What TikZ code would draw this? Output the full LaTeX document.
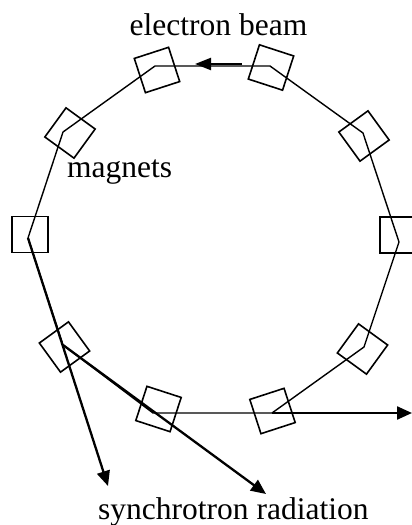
\documentclass[tikz,border=0pt]{standalone}
\usepackage{fontspec}
\setmainfont{Liberation Serif}
\usetikzlibrary{arrows.meta}
\begin{document}
\begin{tikzpicture}[x=1pt,y=-1pt,
  beampath/.style={line width=1.4pt, line join=miter},
  magnet/.style={draw, line width=1.6pt, minimum size=36pt, inner sep=0pt, shape=rectangle},
  rayarrow/.style={line width=2.3pt, -{Triangle[length=15pt,width=13pt]}},
  caption/.style={font=\fontsize{31.5}{36}\selectfont, inner sep=0pt}]
\useasboundingbox (0,0) rectangle (412,525);
\clip (0,0) rectangle (412,525);

% corners of the storage ring (a decagon)
\coordinate (v0) at (399,242);
\coordinate (v1) at (363,133);
\coordinate (v2) at (270,66);
\coordinate (v3) at (155,66);
\coordinate (v4) at (63,132);
\coordinate (v5) at (28,238);
\coordinate (v6) at (63,345);
\coordinate (v7) at (153,413);
\coordinate (v8) at (272,413);
\coordinate (v9) at (364,347);

% beam path
\draw[beampath] (v0) -- (v1) -- (v2) -- (v3) -- (v4) -- (v5) -- (v6) -- (v7) -- (v8) -- (v9) -- cycle;

% bending magnets at the corners
\node[magnet, rotate=0]   (m0) at (398,235) {};
\node[magnet, rotate=36]  (m1) at (364,136) {};
\node[magnet, rotate=-18] (m2) at (271,67.5) {};
\node[magnet, rotate=18]  (m3) at (157,70) {};
\node[magnet, rotate=-36] (m4) at (70,133) {};
\node[magnet, rotate=0]   (m5) at (30,234.5) {};
\node[magnet, rotate=36]  (m6) at (64.5,347) {};
\node[magnet, rotate=-18] (m7) at (158.5,409) {};
\node[magnet, rotate=18]  (m8) at (272.5,411) {};
\node[magnet, rotate=-36] (m9) at (362.5,349) {};

% direction of the electrons
\coordinate (bs) at (242,64);
\coordinate (be) at (195,64);
\draw[line width=2.3pt, -{Triangle[length=16pt,width=12pt]}] (bs) -- (be);

% synchrotron radiation leaving the ring
\coordinate (r1) at (108,486);
\coordinate (r2) at (266,494);
\coordinate (r3) at (412,413);
\draw[rayarrow] (v5) -- (r1);
\draw[rayarrow] (v6) -- (r2);
\draw[rayarrow] (v8) -- (r3);

% labels
\node[caption, anchor=base] (lbeam) at (218.5,35) {electron beam};
\node[caption, anchor=base west] (lmag) at (67,177) {magnets};
\node[caption, anchor=base west] (lrad) at (98,519) {synchrotron radiation};
\end{tikzpicture}
\end{document}
